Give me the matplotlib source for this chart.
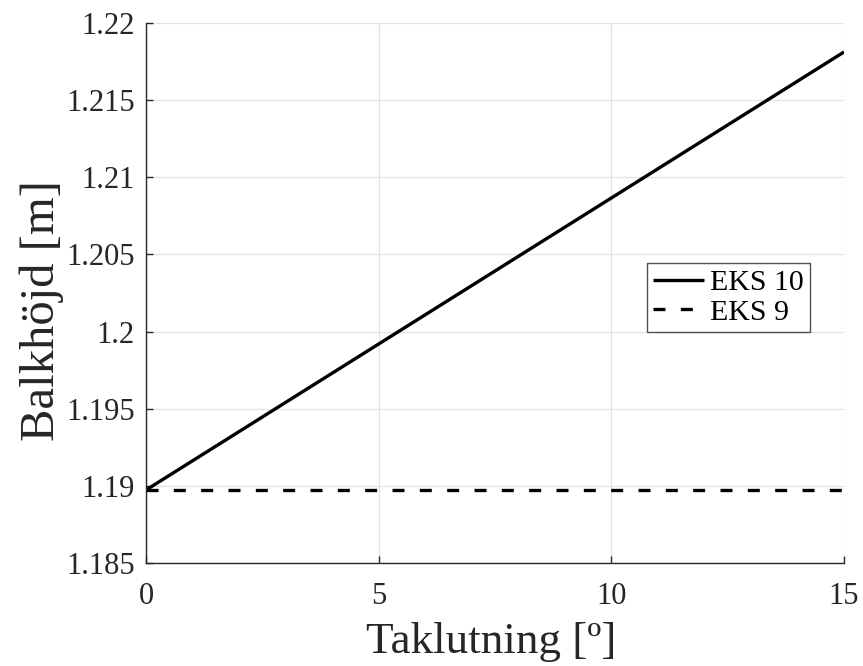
import matplotlib
matplotlib.use("Agg")
import matplotlib.pyplot as plt

# values
taklutning = [0, 15]
eks10 = [1.18973, 1.21812]
eks9 = [1.18973, 1.18973]

x_ticks = [0, 5, 10, 15]
y_ticks = [1.185, 1.19, 1.195, 1.2, 1.205, 1.21, 1.215, 1.22]
y_labels = ["1.185", "1.19", "1.195", "1.2", "1.205", "1.21", "1.215", "1.22"]

plt.rcParams["font.family"] = ["Liberation Serif", "DejaVu Serif"]

fig = plt.figure(figsize=(8.63, 6.66), dpi=100)
ax = fig.add_axes([0.1692, 0.1547, 0.8088, 0.8108])

ax.plot(taklutning, eks10, color="k", lw=2.4, label="EKS 10", solid_capstyle="butt")
ax.plot(taklutning, eks9, color="k", lw=2.4, dashes=(3.6, 4.6), label="EKS 9")

ax.set_xlim(0, 15)
ax.set_ylim(1.185, 1.22)
ax.set_xticks(x_ticks)
ax.set_xticklabels([str(t) for t in x_ticks])
ax.set_yticks(y_ticks)
ax.set_yticklabels(y_labels)

ax.grid(True, color="#e3e3e3", lw=0.9)
ax.set_axisbelow(True)
for s in ["top", "right"]:
    ax.spines[s].set_visible(False)
for s in ["left", "bottom"]:
    ax.spines[s].set_color("#262626")
    ax.spines[s].set_linewidth(1.0)

ax.tick_params(direction="in", length=5, width=1.0, color="#262626",
               labelsize=22, labelcolor="#262626")
ax.tick_params(axis="y", pad=8)
ax.tick_params(axis="x", pad=14)

ax.set_xlabel("Taklutning [º]", fontsize=32.5, color="#262626", va="top")
ax.xaxis.set_label_coords(0.495, -0.11)
ax.set_ylabel("Balkhöjd [m]", fontsize=35, color="#262626")
ax.yaxis.set_label_coords(-0.118, 0.468)

leg = ax.legend(loc="lower right", bbox_to_anchor=(0.951, 0.428), fontsize=21.5,
                frameon=True, fancybox=False, edgecolor="#262626",
                handlelength=1.7, handletextpad=0.2, labelspacing=0.1,
                borderpad=0.2, borderaxespad=0)
leg.get_frame().set_linewidth(1.0)

fig.savefig("out.png", dpi=100, facecolor="white")
